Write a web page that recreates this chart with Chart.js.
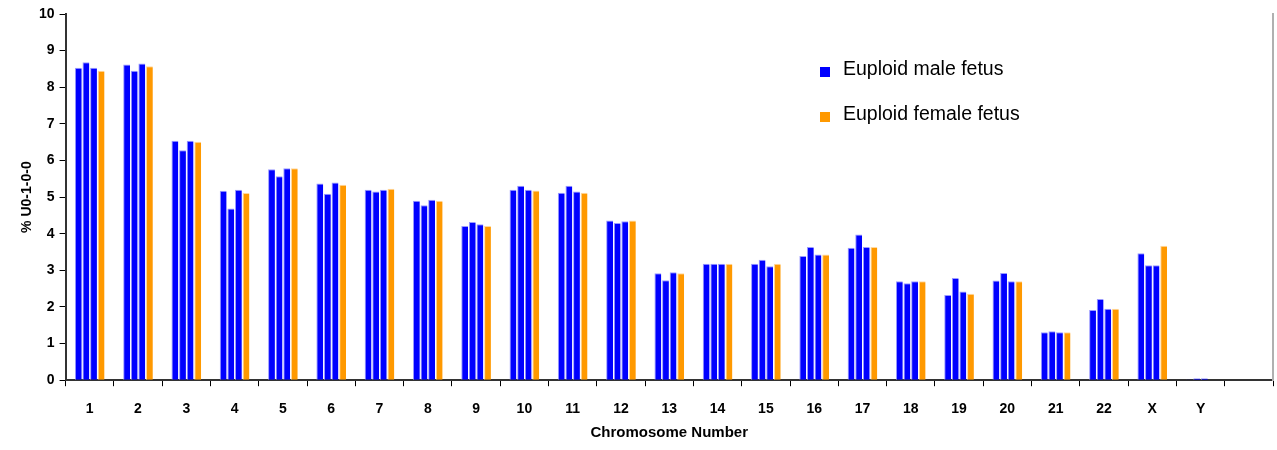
<!DOCTYPE html>
<html>
<head>
<meta charset="utf-8">
<script src="https://cdn.jsdelivr.net/npm/chart.js@4"></script>
<style>
  body { margin: 0; background: #fff; }
  #wrap { position: relative; width: 1277px; height: 450px; }
  #legend { position: absolute; left: 820px; top: 57px; font-family: "Liberation Sans", Arial, sans-serif; font-size: 19.5px; color: #000; }
  #legend div { height: 45px; display: flex; align-items: flex-start; }
  #legend span.box { display: inline-block; width: 10px; height: 10px; margin: 10px 13px 0 0; }
</style>
</head>
<body>
<div id="wrap">
  <canvas id="chromChart" width="1277" height="450"></canvas>
  <div id="legend"></div>
</div>
<script>
  // chromosome categories (last slot is empty, as in the original axis)
  const chromosomes = ["1","2","3","4","5","6","7","8","9","10","11","12","13","14","15","16","17","18","19","20","21","22","X","Y",""];

  // three euploid male samples and one euploid female sample, % U0-1-0-0
  const male1 = [8.53, 8.62, 6.54, 5.17, 5.76, 5.37, 5.20, 4.90, 4.21, 5.20, 5.12, 4.36, 2.92, 3.18, 3.18, 3.39, 3.62, 2.70, 2.33, 2.72, 1.31, 1.92, 3.47, 0.02, null];
  const male2 = [8.68, 8.45, 6.28, 4.69, 5.57, 5.09, 5.15, 4.78, 4.32, 5.31, 5.31, 4.29, 2.73, 3.18, 3.29, 3.64, 3.98, 2.65, 2.79, 2.93, 1.34, 2.22, 3.14, 0.05, null];
  const male3 = [8.53, 8.65, 6.54, 5.20, 5.79, 5.40, 5.20, 4.93, 4.26, 5.20, 5.15, 4.34, 2.95, 3.18, 3.11, 3.43, 3.64, 2.70, 2.42, 2.70, 1.31, 1.95, 3.14, 0.05, null];
  const female1 = [8.45, 8.57, 6.51, 5.11, 5.79, 5.34, 5.23, 4.90, 4.21, 5.18, 5.12, 4.36, 2.92, 3.18, 3.18, 3.43, 3.64, 2.70, 2.36, 2.70, 1.31, 1.95, 3.67, 0, null];

  const maleLabel = "Euploid male fetus";
  const femaleLabel = "Euploid female fetus";
  const blue = "#0000ff", blueEdge = "#9a9aff";
  const orange = "#ff9900", orangeEdge = "#ffd9a0";

  function series(label, data, color, edge) {
    return {
      label: label,
      data: data,
      backgroundColor: color,
      borderColor: edge,
      borderWidth: { left: 1, top: 1, right: 0, bottom: 0 },
      borderSkipped: false,
      categoryPercentage: 0.63,
      barPercentage: 0.9
    };
  }

  const font = { family: "'Liberation Sans', Arial, sans-serif", size: 14, weight: "bold" };

  const ctx = document.getElementById("chromChart").getContext("2d");
  new Chart(ctx, {
    type: "bar",
    data: {
      labels: chromosomes,
      datasets: [
        series(maleLabel, male1, blue, blueEdge),
        series(maleLabel, male2, blue, blueEdge),
        series(maleLabel, male3, blue, blueEdge),
        series(femaleLabel, female1, orange, orangeEdge)
      ]
    },
    options: {
      responsive: false,
      animation: false,
      layout: { padding: { left: 20, right: 4, top: 14, bottom: 8 } },
      plugins: { legend: { display: false }, tooltip: { enabled: false } },
      scales: {
        x: {
          grid: { offset: true, drawOnChartArea: false, drawTicks: true, tickLength: 6, color: "#000" },
          border: { color: "#333", width: 2 },
          ticks: { color: "#000", font: font, padding: 15, maxRotation: 0, autoSkip: false },
          title: { display: true, text: "Chromosome Number", color: "#000", font: { family: font.family, size: 15, weight: "bold" }, padding: { top: -9, bottom: 0 } }
        },
        y: {
          min: 0, max: 10,
          grid: { drawOnChartArea: false, drawTicks: true, tickLength: 6, color: "#000" },
          border: { color: "#333", width: 2 },
          ticks: { stepSize: 1, color: "#000", font: font, padding: 5 },
          title: { display: true, text: "% U0-1-0-0", color: "#000", font: { family: font.family, size: 14, weight: "bold", lineHeight: 1 }, padding: { top: 0, bottom: 0 } }
        },
        yRight: {
          position: "right", min: 0, max: 10,
          grid: { display: false, drawTicks: false },
          border: { color: "#b0b0b0", width: 2 },
          ticks: { display: false }
        }
      }
    }
  });

  // legend: one entry per group (male / female)
  const legend = document.getElementById("legend");
  [[maleLabel, blue], [femaleLabel, orange]].forEach(function (item) {
    const row = document.createElement("div");
    const box = document.createElement("span");
    box.className = "box";
    box.style.background = item[1];
    row.appendChild(box);
    row.appendChild(document.createTextNode(item[0]));
    legend.appendChild(row);
  });
</script>
</body>
</html>
